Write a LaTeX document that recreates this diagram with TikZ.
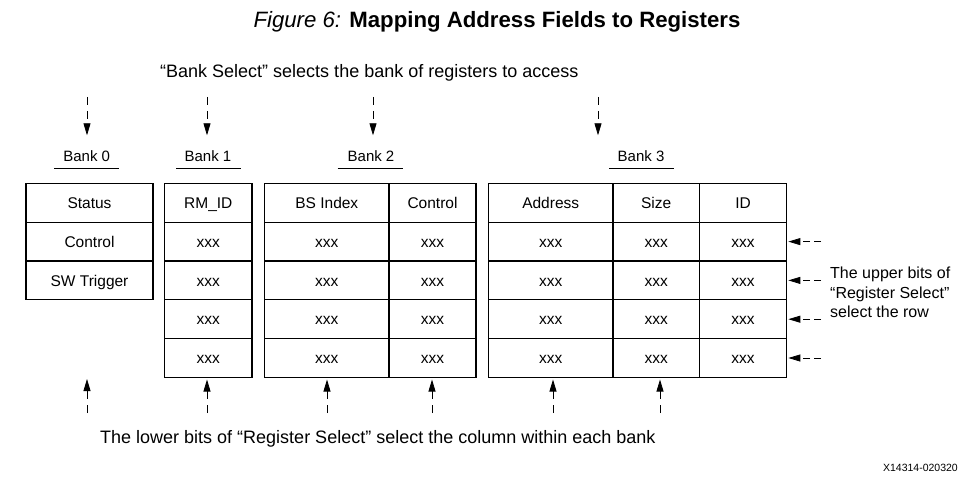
\documentclass[tikz,border=0pt]{standalone}
\usepackage{fontspec}
\setmainfont{Liberation Sans}
\usetikzlibrary{arrows.meta}
\tikzset{
  cell/.style={draw, line width=1.3pt, inner sep=0pt, minimum height=38.8pt, text height=1.12em, text depth=0pt, anchor=center, font=\fontsize{15.5}{17}\selectfont},
  lbl/.style={inner sep=0pt, font=\fontsize{15}{17}\selectfont},
  uline/.style={line width=1.5pt},
  selarrow/.style={line width=0.8pt, dash pattern=on 8pt off 6pt, -{Triangle[width=7pt,length=12pt]}},
  txt/.style={inner sep=0pt, font=\fontsize{18}{21}\selectfont, align=left}
}
\begin{document}
\begin{tikzpicture}[x=1pt,y=-1pt]
\useasboundingbox (0,0) rectangle (976,484);
% title
\node[inner sep=0pt, font=\fontsize{22.2}{25}\selectfont] (title) at (497,22) {\textit{Figure 6:} \textbf{Mapping Address Fields to Registers}};
\node[txt, anchor=west] (banksel) at (160,73) {“Bank Select” selects the bank of registers to access};
% bank labels
\node[lbl] (l0) at (86.7,156) {Bank 0};
\node[lbl] (l1) at (208,156) {Bank 1};
\node[lbl] (l2) at (371,156) {Bank 2};
\node[lbl] (l3) at (641,156) {Bank 3};
\draw[uline] (54,168.7) -- (119.3,168.7);
\draw[uline] (176,168.7) -- (240.7,168.7);
\draw[uline] (337.7,168.7) -- (402.7,168.7);
\draw[uline] (609.3,168.7) -- (674.3,168.7);
% bank 0
\node[cell, minimum width=127pt] (b0r0) at (89.5,202.8) {Status};
\node[cell, minimum width=127pt] (b0r1) at (89.5,241.6) {Control};
\node[cell, minimum width=127pt] (b0r2) at (89.5,280.4) {SW Trigger};
% bank 1
\node[cell, minimum width=87.3pt] (b1r0) at (208.3,202.8) {RM\_ID};
\node[cell, minimum width=87.3pt] (b1r1) at (208.3,241.6) {xxx};
\node[cell, minimum width=87.3pt] (b1r2) at (208.3,280.4) {xxx};
\node[cell, minimum width=87.3pt] (b1r3) at (208.3,319.2) {xxx};
\node[cell, minimum width=87.3pt] (b1r4) at (208.3,358) {xxx};
% bank 2
\node[cell, minimum width=124.3pt] (b2ar0) at (326.8,202.8) {BS Index};
\node[cell, minimum width=124.3pt] (b2ar1) at (326.8,241.6) {xxx};
\node[cell, minimum width=124.3pt] (b2ar2) at (326.8,280.4) {xxx};
\node[cell, minimum width=124.3pt] (b2ar3) at (326.8,319.2) {xxx};
\node[cell, minimum width=124.3pt] (b2ar4) at (326.8,358) {xxx};
\node[cell, minimum width=87pt] (b2br0) at (432.5,202.8) {Control};
\node[cell, minimum width=87pt] (b2br1) at (432.5,241.6) {xxx};
\node[cell, minimum width=87pt] (b2br2) at (432.5,280.4) {xxx};
\node[cell, minimum width=87pt] (b2br3) at (432.5,319.2) {xxx};
\node[cell, minimum width=87pt] (b2br4) at (432.5,358) {xxx};
% bank 3
\node[cell, minimum width=124.7pt] (b3ar0) at (550.7,202.8) {Address};
\node[cell, minimum width=124.7pt] (b3ar1) at (550.7,241.6) {xxx};
\node[cell, minimum width=124.7pt] (b3ar2) at (550.7,280.4) {xxx};
\node[cell, minimum width=124.7pt] (b3ar3) at (550.7,319.2) {xxx};
\node[cell, minimum width=124.7pt] (b3ar4) at (550.7,358) {xxx};
\node[cell, minimum width=86.3pt] (b3br0) at (656.2,202.8) {Size};
\node[cell, minimum width=86.3pt] (b3br1) at (656.2,241.6) {xxx};
\node[cell, minimum width=86.3pt] (b3br2) at (656.2,280.4) {xxx};
\node[cell, minimum width=86.3pt] (b3br3) at (656.2,319.2) {xxx};
\node[cell, minimum width=86.3pt] (b3br4) at (656.2,358) {xxx};
\node[cell, minimum width=87.4pt] (b3cr0) at (743,202.8) {ID};
\node[cell, minimum width=87.4pt] (b3cr1) at (743,241.6) {xxx};
\node[cell, minimum width=87.4pt] (b3cr2) at (743,280.4) {xxx};
\node[cell, minimum width=87.4pt] (b3cr3) at (743,319.2) {xxx};
\node[cell, minimum width=87.4pt] (b3cr4) at (743,358) {xxx};
% top arrows
\coordinate (t0) at (87,97);
\coordinate (t1) at (207,97);
\coordinate (t2) at (373,97);
\coordinate (t3) at (598,97);
\draw[selarrow, shorten >=15pt] (t0) -- (l0.north -| t0);
\draw[selarrow, shorten >=15pt] (t1) -- (l1.north -| t1);
\draw[selarrow, shorten >=15pt] (t2) -- (l2.north -| t2);
\draw[selarrow, shorten >=15pt] (t3) -- (l3.north -| t3);
% right arrows
\coordinate (r1) at (821,241.6);
\coordinate (r2) at (821,280.4);
\coordinate (r3) at (821,319.2);
\coordinate (r4) at (821,358);
\draw[selarrow, dash pattern=on 7pt off 4pt, shorten >=1pt] (r1) -- (b3cr1.east);
\draw[selarrow, dash pattern=on 7pt off 4pt, shorten >=1pt] (r2) -- (b3cr2.east);
\draw[selarrow, dash pattern=on 7pt off 4pt, shorten >=1pt] (r3) -- (b3cr3.east);
\draw[selarrow, dash pattern=on 7pt off 4pt, shorten >=1pt] (r4) -- (b3cr4.east);
\node[txt, anchor=north west, font=\fontsize{16}{19.5}\selectfont] (upper) at (830,267) {The upper bits of\\“Register Select”\\select the row};
% bottom arrows
\coordinate (u0) at (87,413);
\coordinate (u0t) at (87,379);
\coordinate (u1) at (207,413);
\coordinate (u2) at (327,413);
\coordinate (u3) at (432,413);
\coordinate (u4) at (553,413);
\coordinate (u5) at (660,413);
\draw[selarrow] (u0) -- (u0t);
\draw[selarrow, shorten >=1.5pt] (u1) -- (b1r4.south -| u1);
\draw[selarrow, shorten >=1.5pt] (u2) -- (b2ar4.south -| u2);
\draw[selarrow, shorten >=1.5pt] (u3) -- (b2br4.south -| u3);
\draw[selarrow, shorten >=1.5pt] (u4) -- (b3ar4.south -| u4);
\draw[selarrow, shorten >=1.5pt] (u5) -- (b3br4.south -| u5);
\node[txt, anchor=west] (lower) at (100,439) {The lower bits of “Register Select” select the column within each bank};
\node[inner sep=0pt, anchor=east, font=\fontsize{10.5}{12}\selectfont] (fig) at (958,468) {X14314-020320};
\end{tikzpicture}
\end{document}
